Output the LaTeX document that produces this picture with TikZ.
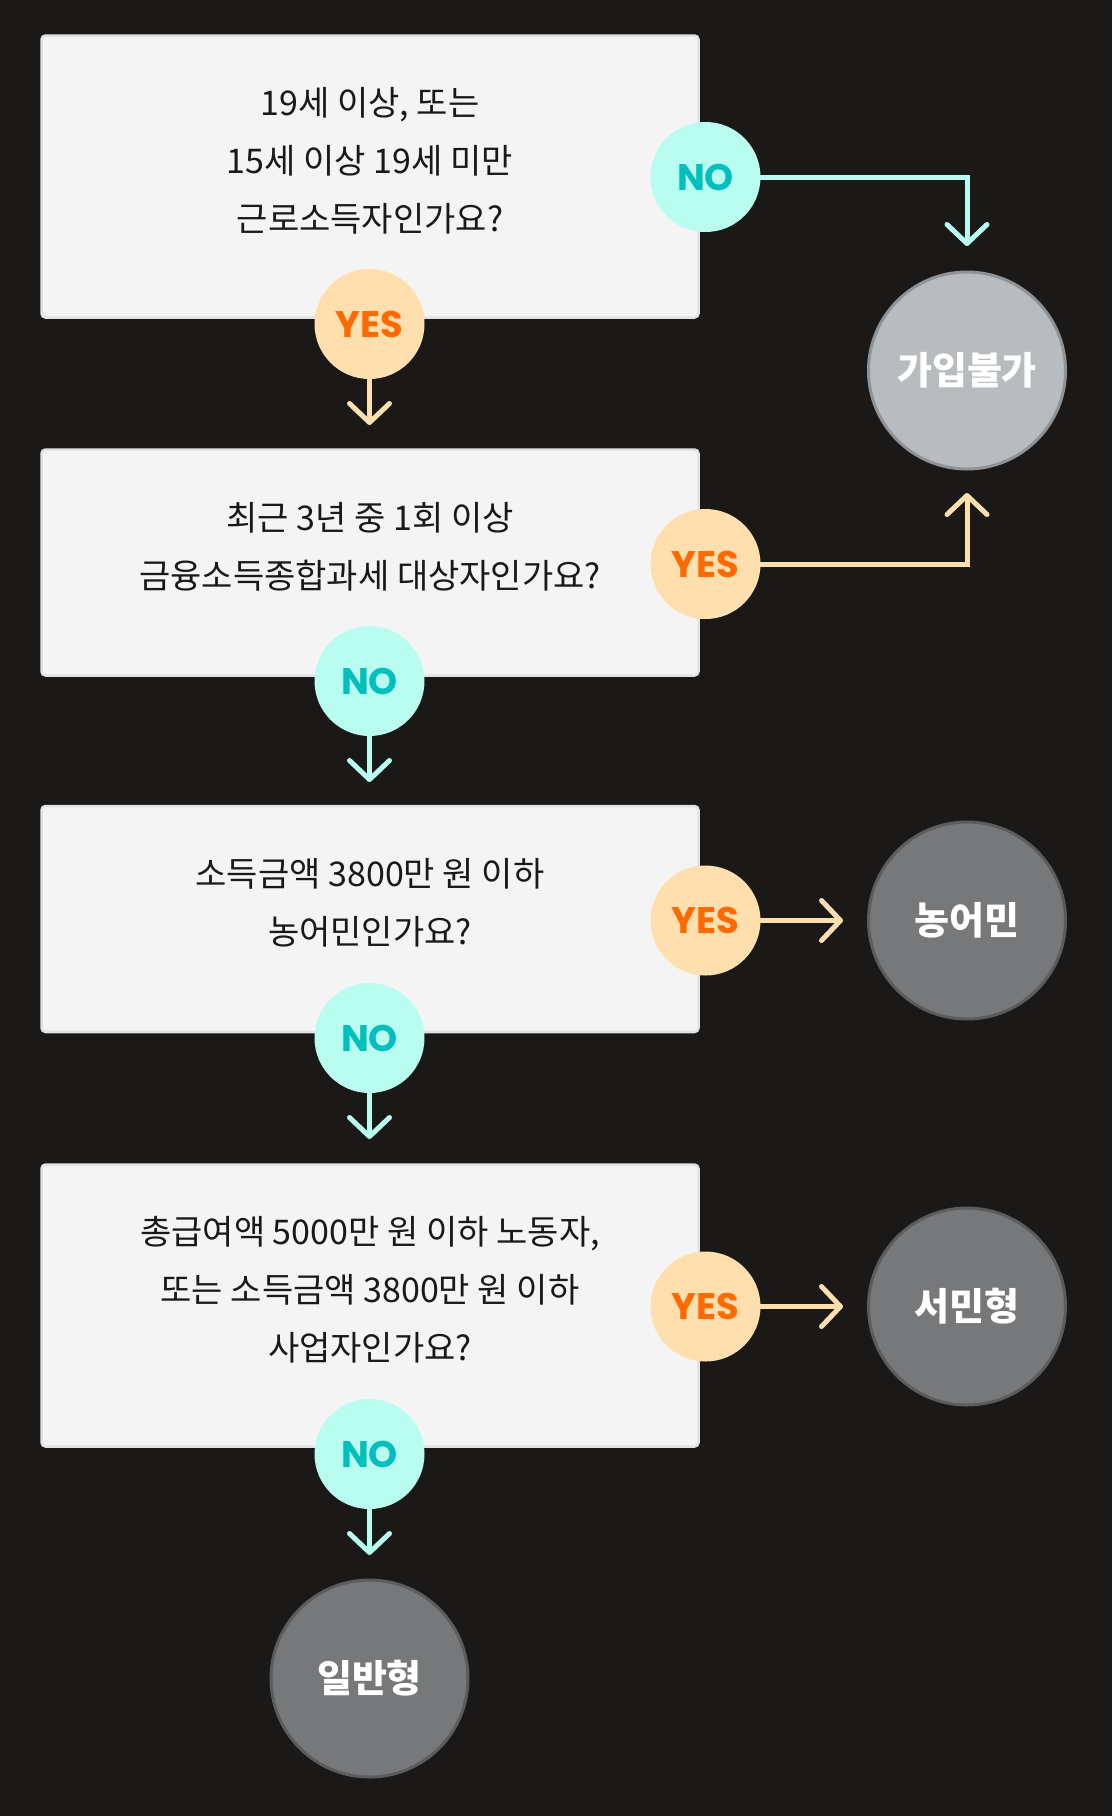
\documentclass[tikz,border=0pt]{standalone}
\usepackage{fontspec}
\setmainfont{Noto Sans CJK KR}
\newfontfamily\tagfont{Poppins}
\usepackage{xcolor}
\usetikzlibrary{arrows.meta, positioning, calc}

\definecolor{bgdark}{HTML}{1A1918}
\definecolor{boxfill}{HTML}{F4F4F4}
\definecolor{boxline}{HTML}{E2E2E2}
\definecolor{nofill}{HTML}{B8FDF0}
\definecolor{notext}{HTML}{00BFBD}
\definecolor{yesfill}{HTML}{FFDFAE}
\definecolor{yestext}{HTML}{FF6A00}
\definecolor{nogo}{HTML}{B8BCBF}
\definecolor{nogoline}{HTML}{8F9396}
\definecolor{endfill}{HTML}{77787A}
\definecolor{endline}{HTML}{5A5C5E}

\begin{document}
\begin{tikzpicture}[
    x=1pt, y=-1pt,
    qbox/.style={rectangle, rounded corners=4pt, draw=boxline, fill=boxfill, line width=2.5pt, minimum width=657pt, minimum height=282pt},
    qtext/.style={align=center, font=\fontsize{34}{58}\selectfont, text=black!90},
    notag/.style={circle, fill=nofill, minimum size=110pt, inner sep=0pt, font=\tagfont\bfseries\fontsize{37}{37}\selectfont, text=notext},
    yestag/.style={circle, fill=yesfill, minimum size=110pt, inner sep=0pt, font=\tagfont\bfseries\fontsize{37}{37}\selectfont, text=yestext},
    result/.style={circle, fill=endfill, draw=endline, line width=3pt, minimum size=197pt, inner sep=0pt, font=\bfseries\fontsize{38}{38}\selectfont, text=white},
    noarrow/.style={-{Straight Barb[length=19pt, width=40pt, line cap=round, line join=round]}, line width=5pt, nofill},
    yesarrow/.style={-{Straight Barb[length=19pt, width=40pt, line cap=round, line join=round]}, line width=5pt, yesfill}
]
\fill[bgdark] (0,0) rectangle (1112,1816);
\useasboundingbox (0,0) rectangle (1112,1816);

% 질문 상자
\node[qbox] (q1) at (370,176.5) {};
\node[qbox, minimum height=226pt] (q2) at (370,562.5) {};
\node[qbox, minimum height=226pt] (q3) at (370,919) {};
\node[qbox] (q4) at (370,1305.5) {};

\node[qtext] (t1) at ([yshift=16pt]q1.center) {19세 이상, 또는\\15세 이상 19세 미만\\근로소득자인가요?};
\node[qtext] (t2) at ([yshift=16pt]q2.center) {최근 3년 중 1회 이상\\금융소득종합과세 대상자인가요?};
\node[qtext] (t3) at ([yshift=16pt]q3.center) {소득금액 3800만 원 이하\\농어민인가요?};
\node[qtext] (t4) at ([yshift=16pt]q4.center) {총급여액 5000만 원 이하 노동자,\\또는 소득금액 3800만 원 이하\\사업자인가요?};

% 결과
\node[result, fill=nogo, draw=nogoline] (deny) at (967,370.5) {가입불가};
\node[result] (farm) at (967,920.5) {농어민};
\node[result] (low) at (967,1306.5) {서민형};
\node[result] (gen) at (369.5,1678.5) {일반형};

% 도착점
\coordinate (d1) at (967,246);
\coordinate (d2) at (967,493);
\coordinate (d3) at (369.5,425);
\coordinate (d4) at (369.5,782);
\coordinate (d5) at (369.5,1139);
\coordinate (d6) at (369.5,1555);
\coordinate (d7) at (843,920.5);
\coordinate (d8) at (843,1306.5);

% 화살표 (태그 아래에 그림)
\draw[noarrow] (705.5,177) -| (d1);
\draw[yesarrow] (705.5,564) -| (d2);
\draw[yesarrow] (369.5,324) -- (d3);
\draw[noarrow] (369.5,681) -- (d4);
\draw[noarrow] (369.5,1038) -- (d5);
\draw[noarrow] (369.5,1454) -- (d6);
\draw[yesarrow] (705.5,920.5) -- (d7);
\draw[yesarrow] (705.5,1306.5) -- (d8);

% 예/아니오 태그
\node[notag] (n1) at (705.5,177) {NO};
\node[yestag] (y1) at (369.5,324) {YES};
\node[yestag] (y2) at (705.5,564) {YES};
\node[notag] (n2) at (369.5,681) {NO};
\node[yestag] (y3) at (705.5,920.5) {YES};
\node[notag] (n3) at (369.5,1038) {NO};
\node[yestag] (y4) at (705.5,1306.5) {YES};
\node[notag] (n4) at (369.5,1454) {NO};

\end{tikzpicture}
\end{document}
